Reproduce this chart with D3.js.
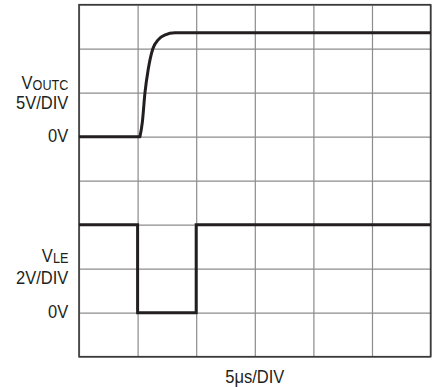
<!DOCTYPE html>
<html>
<head>
<meta charset="utf-8">
<script src="https://cdn.jsdelivr.net/npm/d3@7"></script>
<style>
  body { margin: 0; background: #fff; }
  text { font-family: "Liberation Sans", Arial, sans-serif; fill: #231f20; }
</style>
</head>
<body>
<div id="chart"></div>
<script>
// time in us, volts
var timeTicks = [0, 5, 10, 15, 20, 25, 30];
var divTicks = [0, 1, 2, 3, 4, 5, 6, 7, 8];

var voutcTime = [0, 5.2, 5.4, 5.63, 5.9, 6.3, 6.75, 7.3, 8.2, 30];
var voutcVolt = [0, 0, 1.6, 5, 7.6, 10, 11, 11.55, 11.8, 11.8];

var vleTime = [0, 5, 5, 10, 10, 30];
var vleVolt = [4, 4, 0, 0, 4, 4];

var margin = { top: 4.7, right: 9.4, bottom: 30.3, left: 79 },
    width = 440 - margin.left - margin.right,
    height = 387 - margin.top - margin.bottom;

var svg = d3.select("#chart").append("svg")
    .attr("width", 440)
    .attr("height", 387)
    .append("g")
    .attr("transform", "translate(" + margin.left + "," + margin.top + ")");

var x = d3.scaleLinear().domain([0, 30]).range([0, width]);
var yDiv = d3.scaleLinear().domain([0, 8]).range([height, 0]);

// VOUTC: 0V at division 5, 5V/DIV ; VLE: 0V at division 1, 2V/DIV
function yOut(v) { return yDiv(5 + v / 5); }
function yLe(v) { return yDiv(1 + v / 2); }

// grid
svg.append("g")
    .attr("class", "grid")
    .call(d3.axisBottom(x).tickValues(timeTicks).tickSize(height).tickFormat(""))
    .call(function(g) { g.select(".domain").remove(); });
svg.append("g")
    .attr("class", "grid")
    .call(d3.axisLeft(yDiv).tickValues(divTicks).tickSize(-width).tickFormat(""))
    .call(function(g) { g.select(".domain").remove(); });
svg.selectAll(".grid line")
    .attr("stroke", "#8c8c8c")
    .attr("stroke-width", 1.2);

svg.append("rect")
    .attr("width", width)
    .attr("height", height)
    .attr("fill", "none")
    .attr("stroke", "#3a3a3a")
    .attr("stroke-width", 1.6);

// traces
var outData = voutcTime.map(function(t, i) { return { t: t, v: voutcVolt[i] }; });
var leData = vleTime.map(function(t, i) { return { t: t, v: vleVolt[i] }; });

var flat = d3.line()
    .x(function(d) { return x(d.t); })
    .y(function(d) { return yOut(d.v); });
var rise = d3.line()
    .curve(d3.curveMonotoneX)
    .x(function(d) { return x(d.t); })
    .y(function(d) { return yOut(d.v); });

svg.append("path")
    .attr("d", flat(outData.slice(0, 2)) + rise(outData.slice(1)).replace(/^M/, "L"))
    .attr("fill", "none")
    .attr("stroke", "#231f20")
    .attr("stroke-width", 3)
    .attr("stroke-linejoin", "round");

var leLine = d3.line()
    .x(function(d) { return x(d.t); })
    .y(function(d) { return yLe(d.v); });

svg.append("path")
    .attr("d", leLine(leData))
    .attr("fill", "none")
    .attr("stroke", "#231f20")
    .attr("stroke-width", 3);

// labels (condensed look: squeeze horizontally)
var lx = -10.7, fs = 19, sx = 0.87;

function label(xp, yp, anchor) {
    return svg.append("text")
        .attr("transform", "translate(" + xp + "," + yp + ") scale(" + sx + ",1)")
        .attr("text-anchor", anchor)
        .attr("font-size", fs);
}

var t1 = label(lx, yOut(0) - 48, "end");
t1.append("tspan").text("V");
t1.append("tspan").attr("font-size", 14.5).attr("dy", 1).text("OUTC");
label(lx, yOut(0) - 27.4, "end").text("5V/DIV");
label(lx, yOut(0) + 5, "end").text("0V");

var t2 = label(lx, yLe(0) - 51, "end");
t2.append("tspan").text("V");
t2.append("tspan").attr("font-size", 14.5).attr("dy", 1).text("LE");
label(lx, yLe(0) - 29, "end").text("2V/DIV");
label(lx, yLe(0) + 5, "end").text("0V");

label(width / 2, height + 26, "middle").text("5μs/DIV");
</script>
</body>
</html>
